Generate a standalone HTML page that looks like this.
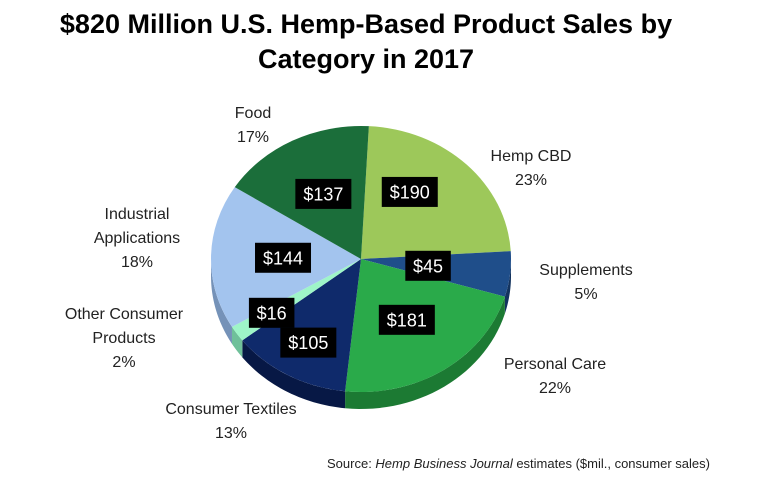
<!DOCTYPE html>
<html><head><meta charset="utf-8"><style>
body{margin:0;background:#fff;}
#wrap{position:relative;width:761px;height:487px;overflow:hidden;font-family:"Liberation Sans",sans-serif;}
.title{position:absolute;left:0;width:732px;text-align:center;font-weight:bold;font-size:27px;color:#000;line-height:35px;}
.lbl{position:absolute;text-align:center;font-size:16px;color:#222;line-height:24px;transform:translate(-50%,0);white-space:nowrap;}
.src{position:absolute;left:327px;top:456px;font-size:13px;color:#222;}
</style></head><body>
<div id="wrap">
<div class="title" style="top:7px">$820 Million U.S. Hemp-Based Product Sales by<br>Category in 2017</div>
<svg id="pie" width="761" height="487" style="position:absolute;left:0;top:0"></svg>
<div class="lbl" style="left:253px;top:102px">Food<br>17%</div>
<div class="lbl" style="left:531px;top:145px">Hemp CBD<br>23%</div>
<div class="lbl" style="left:137px;top:203px">Industrial<br>Applications<br>18%</div>
<div class="lbl" style="left:586px;top:259px">Supplements<br>5%</div>
<div class="lbl" style="left:124px;top:303px">Other Consumer<br>Products<br>2%</div>
<div class="lbl" style="left:555px;top:353px">Personal Care<br>22%</div>
<div class="lbl" style="left:231px;top:398px">Consumer Textiles<br>13%</div>
<div class="src">Source: <i>Hemp Business Journal</i> estimates ($mil., consumer sales)</div>
</div>
<script>
const categories=["Hemp CBD","Supplements","Personal Care","Consumer Textiles","Other Consumer Products","Industrial Applications","Food"];
const values=[190,45,181,105,16,144,137];
const colors=["#9dc85a","#1f4e8a","#2aaa4a","#0f2a6b","#9ef5c8","#a3c4ee","#1b6e3a"];
const sides=["#6f9440","#13335e","#1c7a33","#071845","#6fc09a","#7592b8","#114a27"];
const labelR=[0.6,0.45,0.55,0.72,0.72,0.52,0.55];
const labelShift=[-12,0,0,0,0,0,0];
const svg=document.getElementById('pie');
const NS="http://www.w3.org/2000/svg";
const cx=361,cy=259,rx=150,ry=133,depth=17,start=-87;
const total=values.reduce((a,b)=>a+b,0);
function pt(a,dy){const r=a*Math.PI/180;return [cx+rx*Math.cos(r),cy+ry*Math.sin(r)+(dy||0)];}
let a0=start;const angles=[];
values.forEach(v=>{const a1=a0+v/total*360;angles.push([a0,a1]);a0=a1;});
angles.forEach(([s,e],i)=>{
  const ranges=[[Math.max(s,0),Math.min(e,180)],[Math.max(s,360),Math.min(e,540)]];
  ranges.forEach(([l,h])=>{
    if(h<=l)return;
    let top=[],bot=[];
    for(let k=0;k<=30;k++){const a=l+(h-l)*k/30;top.push(pt(a));bot.unshift(pt(a,depth));}
    const p=document.createElementNS(NS,'polygon');
    p.setAttribute('points',top.concat(bot).map(q=>q.join(',')).join(' '));
    p.setAttribute('fill',sides[i]);
    
    
    svg.appendChild(p);
  });
});
angles.forEach(([s,e],i)=>{
  const p1=pt(s),p2=pt(e);
  const large=(e-s)>180?1:0;
  const path=document.createElementNS(NS,'path');
  path.setAttribute('d',`M${cx},${cy} L${p1[0]},${p1[1]} A${rx},${ry} 0 ${large} 1 ${p2[0]},${p2[1]} Z`);
  path.setAttribute('fill',colors[i]);
  
  
  svg.appendChild(path);
});
angles.forEach(([s,e],i)=>{
  const m=((s+e)/2+labelShift[i])*Math.PI/180;
  const x=cx+labelR[i]*rx*Math.cos(m),y=cy+labelR[i]*ry*Math.sin(m);
  const g=document.createElementNS(NS,'g');
  
  
  const txt='$'+values[i];
  const w=txt.length*10.5+14;
  const r=document.createElementNS(NS,'rect');
  r.setAttribute('x',x-w/2);r.setAttribute('y',y-15);r.setAttribute('width',w);r.setAttribute('height',30);r.setAttribute('fill','#000');
  const t=document.createElementNS(NS,'text');
  t.setAttribute('x',x);t.setAttribute('y',y+6.5);t.setAttribute('text-anchor','middle');t.setAttribute('fill','#fff');
  t.setAttribute('font-size','18');t.setAttribute('font-family','Liberation Sans, sans-serif');
  t.textContent=txt;
  g.appendChild(r);g.appendChild(t);svg.appendChild(g);
});
</script>
</body></html>
